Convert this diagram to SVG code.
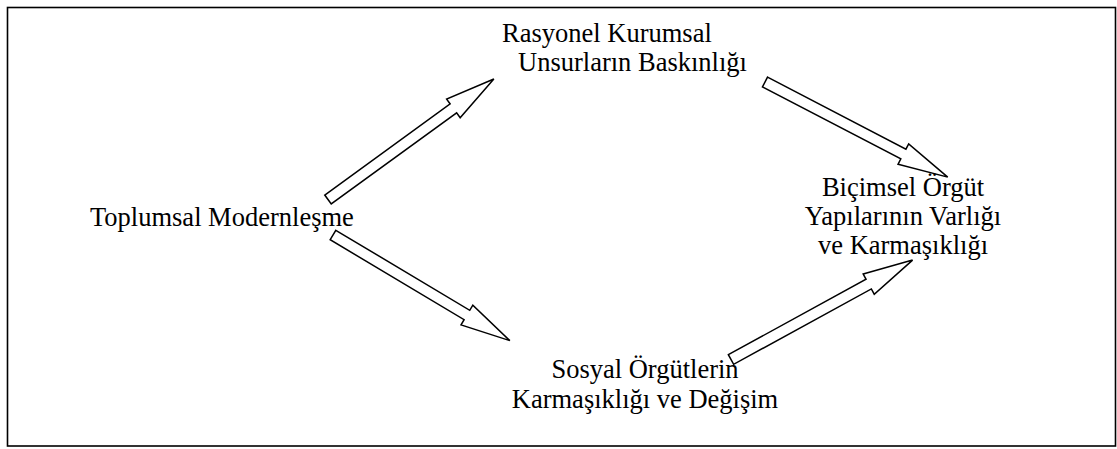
<svg xmlns="http://www.w3.org/2000/svg" width="1117" height="449" viewBox="0 0 1117 449">
<style>
.t{font-family:"Liberation Serif","Times New Roman",serif;font-size:26.5px;fill:#000}
.c{text-anchor:middle}
.ar{fill:#fff;stroke:#000;stroke-width:1.5;stroke-linejoin:miter}
</style>
<rect x="0" y="0" width="1117" height="449" fill="#fff"/>
<rect x="7.5" y="7.5" width="1108" height="438.5" fill="none" stroke="#000" stroke-width="1.6"/>
<g id="connectors">
<path class="ar" transform="translate(328,199.5) rotate(-36)" d="M0,-5.5 L155,-5.5 L155,-11.5 L205,0 L155,11.5 L155,5.5 L0,5.5 Z"/>
<path class="ar" transform="translate(765,82) rotate(27.5)" d="M0,-5.5 L156,-5.5 L156,-11.5 L206,0 L156,11.5 L156,5.5 L0,5.5 Z"/>
<path class="ar" transform="translate(333,235) rotate(30.85)" d="M0,-5.5 L156,-5.5 L156,-11.5 L206,0 L156,11.5 L156,5.5 L0,5.5 Z"/>
<path class="ar" transform="translate(731,359.5) rotate(-28.7)" d="M0,-5.5 L157,-5.5 L157,-11.5 L207,0 L157,11.5 L157,5.5 L0,5.5 Z"/>
</g>
<g id="toplumsal"><text class="t" x="90" y="226">Toplumsal Modernleşme</text></g>
<g id="rasyonel">
<text class="t" x="502" y="42">Rasyonel Kurumsal</text>
<text class="t" x="518" y="71">Unsurların Baskınlığı</text>
</g>
<g id="bicimsel">
<text class="t c" x="903" y="196">Biçimsel Örgüt</text>
<text class="t c" x="903" y="225">Yapılarının Varlığı</text>
<text class="t c" x="903" y="254">ve Karmaşıklığı</text>
</g>
<g id="sosyal">
<text class="t c" x="645" y="378">Sosyal Örgütlerin</text>
<text class="t c" x="645" y="408">Karmaşıklığı ve Değişim</text>
</g>
</svg>
